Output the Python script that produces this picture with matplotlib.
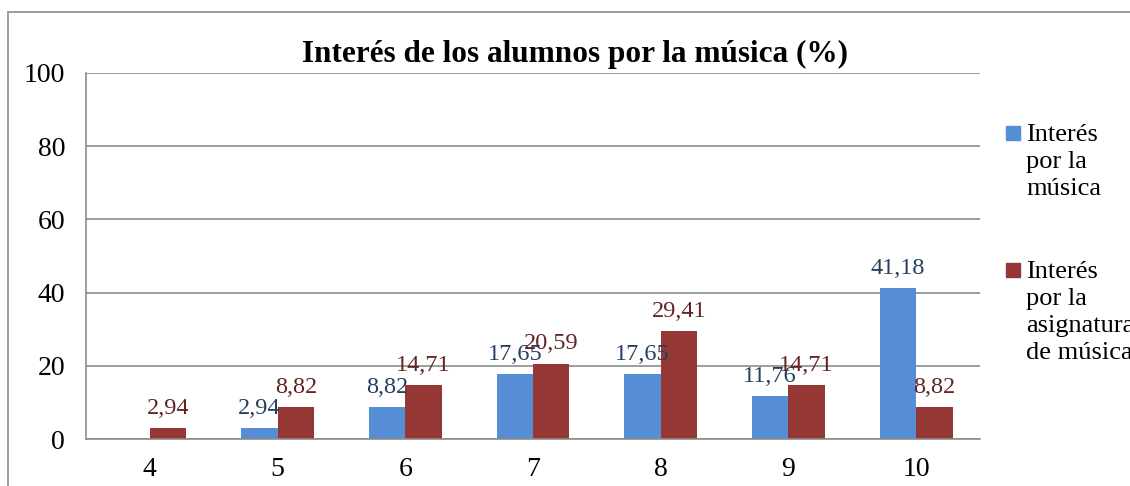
import matplotlib.pyplot as plt
from matplotlib.patches import Rectangle
import numpy as np

plt.rcParams['font.family'] = ['Liberation Serif', 'DejaVu Serif']

categories = ["4", "5", "6", "7", "8", "9", "10"]
musica = [0, 2.94, 8.82, 17.65, 17.65, 11.76, 41.18]
asignatura = [2.94, 8.82, 14.71, 20.59, 29.41, 14.71, 8.82]
musica_labels = [None, "2,94", "8,82", "17,65", "17,65", "11,76", "41,18"]
asignatura_labels = ["2,94", "8,82", "14,71", "20,59", "29,41", "14,71", "8,82"]
series_names = ["Interés\npor la\nmúsica", "Interés\npor la\nasignatura\nde música"]
colors = ['#558ED5', '#953735']

W, H = 1130, 486
fig = plt.figure(figsize=(W / 100, H / 100), dpi=100)

# outer chart border (cut at right/bottom in the reference)
fig.patches.append(Rectangle((8 / W, -0.1), 1.2, 1 - 12 / H + 0.1, transform=fig.transFigure,
                             fill=False, edgecolor='#8c8c8c', linewidth=1.2))

ax = fig.add_axes([86 / W, 1 - 439 / H, (980 - 86) / W, (439 - 73) / H])

x = np.arange(len(categories))
w = 0.285
ax.bar(x - w / 2, musica, w, color=colors[0])
ax.bar(x + w / 2, asignatura, w, color=colors[1])

for i in range(len(categories)):
    if musica_labels[i]:
        ax.text(x[i] - w / 2, musica[i] + 2.5, musica_labels[i], ha='center', va='bottom',
                fontsize=17.5, color='#243F60')
    ax.text(x[i] + w / 2, asignatura[i] + 2.5, asignatura_labels[i], ha='center', va='bottom',
            fontsize=17.5, color='#632523')

ax.set_xlim(-0.5, len(categories) - 0.5)
ax.set_ylim(0, 100)
ax.set_yticks(range(0, 101, 20))
ax.yaxis.grid(True, color='#8c8c8c', linewidth=1.2)
ax.set_axisbelow(True)
ax.set_xticks(x)
ax.set_xticklabels(categories)
ax.tick_params(axis='both', length=0, labelsize=20)
ax.tick_params(axis='x', pad=13)
ax.tick_params(axis='y', pad=15)
for s in ['top', 'right']:
    ax.spines[s].set_visible(False)
for s in ['left', 'bottom']:
    ax.spines[s].set_color('#8c8c8c')
    ax.spines[s].set_linewidth(1.2)

fig.text(575 / W, 1 - 54 / H, "Interés de los alumnos por la música (%)", ha='center', va='center',
         fontsize=22.5, fontweight='bold')

# legend drawn by hand: square aligned with first text line
for top, name, c in zip([126, 263], series_names, colors):
    fig.patches.append(Rectangle((1006 / W, 1 - (top + 14) / H), 14 / W, 14 / H,
                                 transform=fig.transFigure, color=c))
    fig.text(1026 / W, 1 - (top - 2) / H, name, ha='left', va='top', fontsize=19,
             linespacing=1.3)

fig.savefig("out.png", dpi=100)
